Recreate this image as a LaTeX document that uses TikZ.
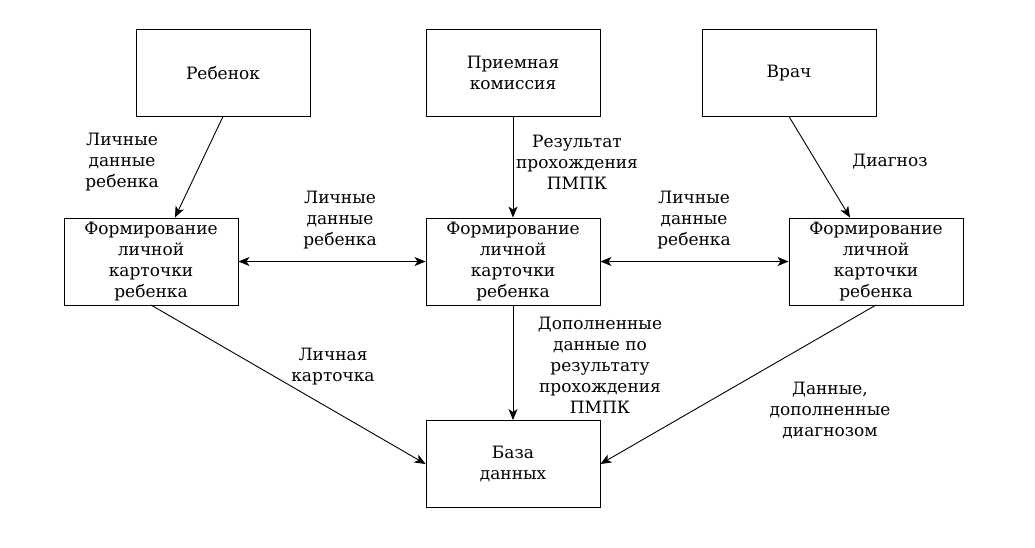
\documentclass[tikz,border=0pt]{standalone}
\usepackage{fontspec}
\setmainfont{DejaVu Serif}
\usetikzlibrary{arrows.meta}
\begin{document}
\begin{tikzpicture}[x=1pt,y=-1pt,
  box/.style={draw,line width=0.9pt,minimum width=174pt,minimum height=87pt,align=center,inner sep=2pt,font=\fontsize{17}{21}\selectfont},
  lbl/.style={align=center,font=\fontsize{17}{21}\selectfont},
  arr/.style={line width=0.9pt,-{Stealth[length=11pt,width=9pt,inset=3pt]}},
  darr/.style={line width=0.9pt,{Stealth[length=11pt,width=9pt,inset=3pt]}-{Stealth[length=11pt,width=9pt,inset=3pt]}}]
\useasboundingbox (0,0) rectangle (1035,547);
\node[box] (reb) at (223,73) {Ребенок};
\node[box] (pk) at (513,73) {Приемная\\комиссия};
\node[box] (vr) at (789,73) {Врач};
\node[box] (f1) at (151,261.5) {Формирование\\личной\\карточки\\ребенка};
\node[box] (f2) at (513,261.5) {Формирование\\личной\\карточки\\ребенка};
\node[box] (f3) at (876,261.5) {Формирование\\личной\\карточки\\ребенка};
\node[box] (db) at (513,464) {База\\данных};
\coordinate (rebB) at (223,116.5);
\coordinate (f1T) at (175,217.5);
\coordinate (vrB) at (789,116.5);
\coordinate (f3T) at (850,217.5);
\draw[arr] (rebB) -- (f1T);
\draw[arr] (pk.south) -- (f2.north);
\draw[arr] (vrB) -- (f3T);
\draw[darr] (f1.east) -- (f2.west);
\draw[darr] (f2.east) -- (f3.west);
\coordinate (f1B) at (151,305);
\coordinate (f3B) at (876,305);
\draw[arr] (f1B) -- (db.west);
\draw[arr] (f2.south) -- (db.north);
\draw[arr] (f3B) -- (db.east);
\node[lbl] (l1) at (122,162) {Личные\\данные\\ребенка};
\node[lbl] (l2) at (577,162) {Результат\\прохождения\\ПМПК};
\node[lbl] (l3) at (890,162) {Диагноз};
\node[lbl] (l4) at (340,220) {Личные\\данные\\ребенка};
\node[lbl] (l5) at (694,220) {Личные\\данные\\ребенка};
\node[lbl] (l6) at (333,367) {Личная\\карточка};
\node[lbl] (l7) at (600,365) {Дополненные\\данные по\\результату\\прохождения\\ПМПК};
\node[lbl] (l8) at (830,410) {Данные,\\дополненные\\диагнозом};
\end{tikzpicture}
\end{document}
